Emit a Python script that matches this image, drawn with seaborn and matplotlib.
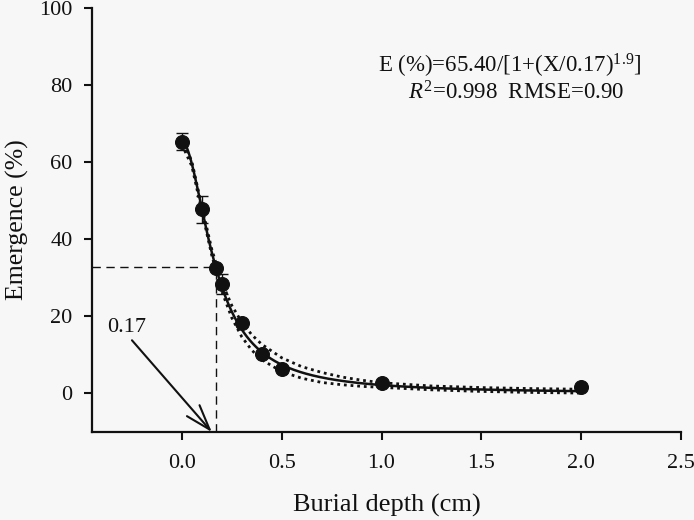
"""
Emergence vs burial depth with fitted log-logistic curve.
"""

import numpy as np
import pandas as pd
import matplotlib
matplotlib.use("Agg")
import matplotlib.pyplot as plt
import seaborn as sns

depth = [0.0, 0.1, 0.17, 0.2, 0.3, 0.4, 0.5, 1.0, 2.0]
emergence = [65.2, 47.8, 32.5, 28.3, 18.3, 10.3, 6.3, 2.7, 1.8]
err_lo = [2.0, 3.6, 0.0, 2.6, 0.6, 0.6, 0.5, 0.4, 0.3]
err_hi = [2.3, 3.4, 0.0, 2.7, 0.6, 0.6, 0.5, 0.4, 0.3]

# fitted model E = a / (1 + (x / b)^c)
fit_a, fit_b, fit_c = 65.40, 0.17, 1.9

# half-width of the dotted confidence band
band_x = [0.0, 0.05, 0.1, 0.15, 0.2, 0.25, 0.3, 0.35, 0.4, 0.5, 0.6, 0.7,
          0.8, 0.9, 1.0, 1.25, 1.5, 1.75, 2.0]
band_hw = [0.8, 0.6, 0.6, 0.8, 1.2, 1.6, 1.9, 2.0, 2.0, 1.8, 1.5, 1.3,
           1.0, 0.8, 0.6, 0.5, 0.5, 0.5, 0.5]

x50 = 0.17
x_ticks = [0.0, 0.5, 1.0, 1.5, 2.0, 2.5]
y_ticks = [0, 20, 40, 60, 80, 100]

BG = "#f7f7f7"
INK = "#111111"


def loglogistic(x, a, b, c):
    return a / (1 + (np.asarray(x) / b) ** c)


def main():
    sns.set_style("ticks")
    plt.rcParams["font.family"] = ["Liberation Serif", "DejaVu Serif"]
    plt.rcParams["mathtext.fontset"] = "custom"
    plt.rcParams["mathtext.rm"] = "Liberation Serif"
    plt.rcParams["mathtext.it"] = "Liberation Serif:italic"

    fig = plt.figure(figsize=(6.94, 5.2), dpi=100, facecolor=BG)
    ax = fig.add_axes([0.1326, 0.1692, 0.8487, 0.8154])
    ax.set_facecolor(BG)

    xs = np.linspace(0.0, 2.0, 400)
    curve = pd.DataFrame({"x": xs, "fit": loglogistic(xs, fit_a, fit_b, fit_c)})

    band_fit = loglogistic(band_x, fit_a, fit_b, fit_c)
    band = pd.DataFrame({
        "x": band_x,
        "upper": band_fit + np.array(band_hw),
        "lower": band_fit - np.array(band_hw),
    })

    # confidence band (dotted)
    for col in ["upper", "lower"]:
        sns.lineplot(data=band, x="x", y=col, ax=ax, color=INK,
                     linestyle=(0, (1, 1.4)), linewidth=2.0)
    # fitted curve
    sns.lineplot(data=curve, x="x", y="fit", ax=ax, color=INK, linewidth=1.8)

    # error bars and points
    ax.errorbar(depth, emergence, yerr=[err_lo, err_hi], fmt="none",
                ecolor=INK, elinewidth=1.0, capsize=4.5, capthick=1.0)
    pts = pd.DataFrame({"depth": depth, "emergence": emergence})
    sns.scatterplot(data=pts, x="depth", y="emergence", ax=ax, color=INK,
                    s=100, edgecolor=INK, zorder=5)

    # x50 guide lines
    y50 = float(loglogistic(x50, fit_a, fit_b, fit_c))
    ax.plot([-0.45, x50], [y50, y50], color=INK, linestyle=(0, (6, 4)), linewidth=1.0)
    ax.plot([x50, x50], [-10, y50], color=INK, linestyle=(0, (6, 4)), linewidth=1.0)

    ax.text(-0.276, 17.2, "0.17", fontsize=16, ha="center", va="center", color=INK)
    ax.annotate("", xy=(0.15, -10), xytext=(-0.25, 13.8),
                arrowprops=dict(arrowstyle="->,head_length=1.8,head_width=0.6",
                                color=INK, lw=1.5, shrinkA=0, shrinkB=0))

    ax.text(0.71, 0.863, "E (%)=65.40/[1+(X/0.17)$^{1.9}$]", transform=ax.transAxes,
            fontsize=16.5, ha="center", va="center", color=INK)
    ax.text(0.72, 0.80, "$\\mathit{R}^2$=0.998  RMSE=0.90", transform=ax.transAxes,
            fontsize=16.5, ha="center", va="center", color=INK)

    ax.set_xlim(-0.45, 2.5)
    ax.set_ylim(-10, 100)
    ax.set_xticks(x_ticks)
    ax.set_xticklabels([f"{t:.1f}" for t in x_ticks])
    ax.set_yticks(y_ticks)
    ax.tick_params(axis="both", direction="out", length=6, width=1.5,
                   labelsize=16, color=INK, labelcolor=INK)
    ax.tick_params(axis="x", pad=10)
    ax.tick_params(axis="y", pad=8)
    ax.set_xlabel("Burial depth (cm)", fontsize=19, labelpad=15, color=INK)
    ax.set_ylabel("Emergence (%)", fontsize=18.5, labelpad=7, color=INK)

    sns.despine(ax=ax)
    for side in ["left", "bottom"]:
        ax.spines[side].set_linewidth(1.6)
        ax.spines[side].set_color(INK)

    fig.savefig("out.png", dpi=100, facecolor=BG)


if __name__ == "__main__":
    main()
